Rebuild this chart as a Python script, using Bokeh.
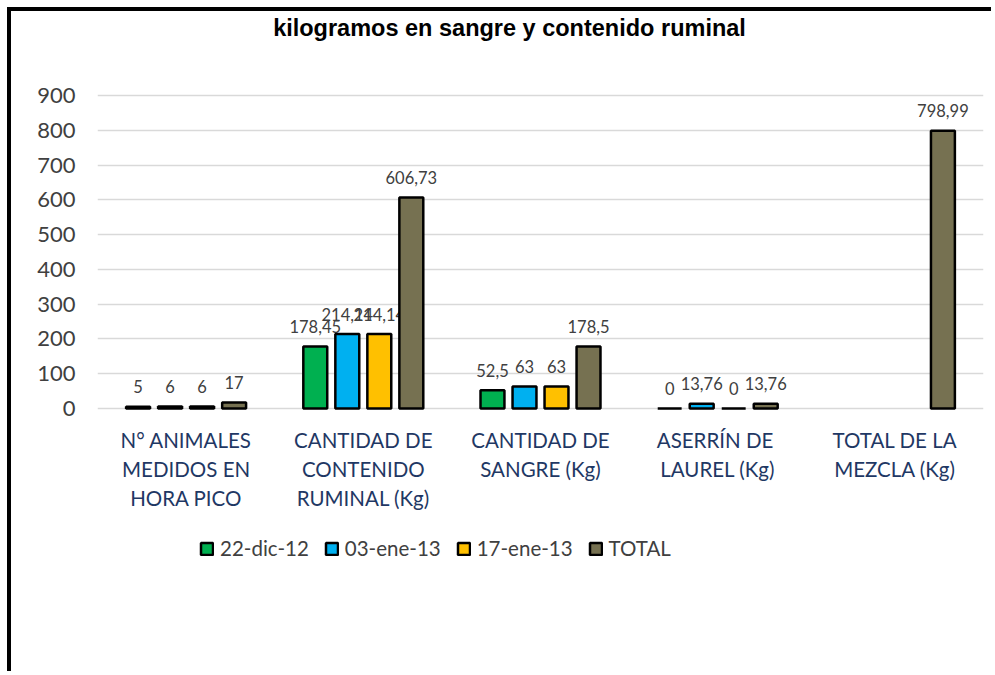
import math
from bokeh.plotting import figure
from bokeh.models import ColumnDataSource, FactorRange, Range1d, FixedTicker, Legend, LegendItem, Label
from bokeh.transform import dodge
from bokeh.core.properties import value
from bokeh.embed import file_html
from bokeh.resources import INLINE

nan = float("nan")

categories = [
    "N° ANIMALES\nMEDIDOS EN\nHORA PICO",
    "CANTIDAD DE\nCONTENIDO\nRUMINAL (Kg)",
    "CANTIDAD DE\nSANGRE (Kg)",
    "ASERRÍN  DE\nLAUREL (Kg)",
    "TOTAL DE LA\nMEZCLA (Kg)",
]
series_names = ["22-dic-12", "03-ene-13", "17-ene-13", "TOTAL"]
dic_22 = [5, 178.45, 52.5, 0, nan]
ene_03 = [6, 214.14, 63, 13.76, nan]
ene_17 = [6, 214.14, 63, 0, nan]
total = [17, 606.73, 178.5, 13.76, 798.99]
y_ticks = [0, 100, 200, 300, 400, 500, 600, 700, 800, 900]

series_values = [dic_22, ene_03, ene_17, total]
colors = ["#00B050", "#00B0F0", "#FFC000", "#767151"]
offsets = [-0.271, -0.0903, 0.0903, 0.271]


def fmt(v):
    if v is None or (isinstance(v, float) and math.isnan(v)):
        return ""
    return ("%g" % v).replace(".", ",")


# layout (pixels): canvas 984x664, value axis 0..900 spans 313 px,
# zero line 267 px above the canvas bottom
CANVAS_H = 664
ZERO_FROM_BOTTOM = 267
PX_PER_UNIT = 313 / 900
y_lo = -ZERO_FROM_BOTTOM / PX_PER_UNIT
y_hi = (CANVAS_H - ZERO_FROM_BOTTOM) / PX_PER_UNIT

p = figure(
    x_range=FactorRange(factors=categories, range_padding=0),
    y_range=Range1d(y_lo, y_hi),
    width=984, height=CANVAS_H,
    output_backend="svg", toolbar_location=None,
    min_border_left=86, min_border_right=12, min_border_top=0, min_border_bottom=0,
)
p.styles = {"margin-left": "7px", "margin-top": "7px",
            "border-left": "4px solid black", "border-top": "4px solid black"}
p.outline_line_color = None
p.background_fill_color = "white"
p.border_fill_color = "white"

p.xaxis.visible = False
p.xgrid.grid_line_color = None
p.ygrid.grid_line_color = "#D9D9D9"
p.ygrid.grid_line_width = 1.5
p.yaxis.ticker = FixedTicker(ticks=y_ticks)

p.yaxis.axis_line_color = None
p.yaxis.major_tick_line_color = None
p.yaxis.minor_tick_line_color = None
p.yaxis.major_label_standoff = 16
p.yaxis.major_label_text_font = "Lato"
p.yaxis.major_label_text_font_size = "22px"
p.yaxis.major_label_text_color = "#404040"

# category labels below the zero line
cat_src = ColumnDataSource(dict(x=categories, y=[0] * len(categories)))
p.text(x="x", y="y", text="x", source=cat_src, y_offset=19,
       text_align="center", text_baseline="top", text_line_height=1.22,
       text_font=value("Lato"), text_font_size="20.5px", text_color="#1F3864")

items = []
for name, vals, col, off in zip(series_names, series_values, colors, offsets):
    src = ColumnDataSource(dict(x=categories, top=vals, label=[fmt(v) for v in vals]))
    r = p.vbar(x=dodge("x", off, range=p.x_range), top="top", width=0.135, bottom=0,
               source=src, fill_color=col, line_color="black", line_width=2.5)
    p.text(x=dodge("x", off, range=p.x_range), y="top", text="label", source=src,
           y_offset=-20, text_align="center", text_baseline="middle",
           text_font=value("Lato"), text_font_size="16.5px", text_color="#404040")
    items.append(LegendItem(label=name, renderers=[r]))

legend = Legend(items=items, orientation="horizontal", location=(102, 115))
legend.border_line_color = None
legend.background_fill_alpha = 0
legend.label_text_font = "Lato"
legend.label_text_font_size = "20.5px"
legend.label_text_color = "#404040"
legend.glyph_width = 15
legend.glyph_height = 15
legend.label_standoff = 6
legend.spacing = 15
legend.padding = 5
legend.margin = 0
p.add_layout(legend, "center")

title = Label(x=412, y=CANVAS_H - 16, x_units="screen", y_units="screen",
              text="kilogramos en sangre y contenido ruminal",
              text_align="center", text_baseline="alphabetic",
              text_font="Liberation Sans", text_font_style="bold",
              text_font_size="23.5px", text_color="black")
p.add_layout(title)

open("out.html", "w").write(file_html(p, INLINE))
